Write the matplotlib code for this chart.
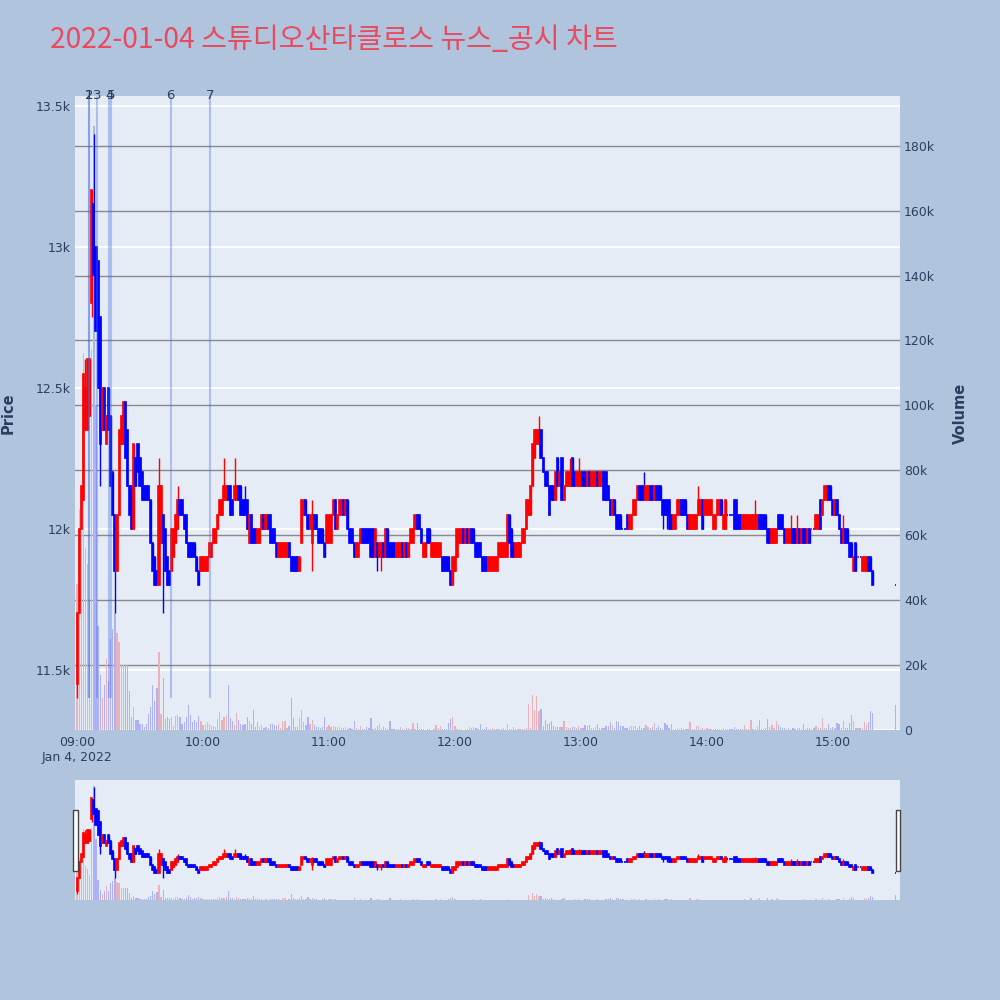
import numpy as np
import matplotlib.pyplot as plt
from matplotlib.patches import Rectangle
from matplotlib.transforms import blended_transform_factory

plt.rcParams['font.family'] = ['DejaVu Sans']

title = '2022-01-04 스튜디오산타클로스 뉴스_공시 차트'

# 1-minute candles 09:00 ~ 15:19, then the 15:30 closing auction
minutes = list(range(380)) + [390]

opens = [
    11450, 11700, 12000, 12100, 12350, 12350, 12400, 12800, 13150, 13000,
    12950, 12750, 12350, 12500, 12300, 12500, 12400, 12200, 12050, 11850,
    12050, 12300, 12300, 12450, 12350, 12150, 12150, 12000, 12250, 12300,
    12250, 12200, 12150, 12150, 12150, 12100, 11950, 11900, 11850, 11800,
    11950, 12050, 12000, 11900, 11850, 11850, 11900, 11950, 12000, 12100,
    12100, 12050, 12050, 11950, 11950, 11950, 11950, 11900, 11850, 11850,
    11850, 11850, 11850, 11900, 11900, 11950, 11950, 12000, 12050, 12050,
    12100, 12100, 12150, 12150, 12100, 12100, 12100, 12150, 12150, 12100,
    12100, 12100, 11950, 12050, 12000, 12000, 11950, 11950, 12000, 12050,
    12000, 12050, 12050, 12000, 12000, 11950, 11900, 11900, 11900, 11900,
    11900, 11950, 11900, 11900, 11900, 11900, 11850, 11950, 12050, 12100,
    12050, 12000, 11950, 12050, 12050, 12000, 12000, 12000, 11950, 11950,
    11950, 11950, 12050, 12100, 12000, 12050, 12050, 12100, 12050, 12100,
    12000, 12000, 11950, 11900, 11900, 11950, 12000, 12000, 12000, 12000,
    12000, 12000, 11900, 11950, 11900, 11900, 11950, 11900, 12000, 11950,
    11950, 11950, 11900, 11900, 11900, 11950, 11900, 11950, 11900, 11950,
    11950, 12000, 12050, 12050, 12000, 11900, 11900, 12000, 12000, 11900,
    11900, 11900, 11900, 11900, 11900, 11900, 11900, 11900, 11850, 11800,
    11850, 11900, 11950, 11950, 12000, 11950, 12000, 11950, 12000, 12000,
    11950, 11950, 11950, 11900, 11900, 11900, 11850, 11850, 11850, 11850,
    11850, 11900, 11900, 11900, 11900, 11900, 12050, 12000, 11950, 11900,
    11900, 11900, 11950, 11950, 12000, 12050, 12050, 12150, 12250, 12300,
    12300, 12350, 12250, 12200, 12200, 12150, 12150, 12150, 12100, 12250,
    12150, 12250, 12100, 12150, 12150, 12150, 12250, 12200, 12150, 12150,
    12150, 12200, 12200, 12150, 12200, 12150, 12150, 12150, 12200, 12150,
    12150, 12200, 12200, 12150, 12100, 12050, 12100, 12050, 12050, 12050,
    12000, 12000, 12050, 12000, 12000, 12050, 12050, 12100, 12150, 12150,
    12150, 12100, 12100, 12150, 12150, 12100, 12150, 12150, 12150, 12100,
    12100, 12100, 12100, 12050, 12000, 12000, 12050, 12050, 12100, 12100,
    12100, 12050, 12000, 12000, 12000, 12000, 12050, 12050, 12100, 12050,
    12050, 12050, 12050, 12000, 12000, 12050, 12050, 12100, 12000, 12000,
    12050, 12050, 12050, 12100, 12100, 12050, 12050, 12000, 12000, 12000,
    12000, 12000, 12000, 12000, 12000, 12050, 12050, 12050, 12050, 12000,
    12000, 11950, 11950, 11950, 12050, 12050, 12050, 12000, 11950, 11950,
    11950, 12000, 12000, 11950, 12000, 11950, 12000, 12000, 11950, 12000,
    12000, 12000, 12000, 12000, 12100, 12050, 12100, 12100, 12150, 12150,
    12100, 12050, 12100, 12050, 12000, 11950, 12000, 12000, 11950, 11950,
    11850, 11950, 11900, 11900, 11850, 11850, 11850, 11900, 11900, 11850,
    11800,
]

closes = [
    11700, 12000, 12150, 12550, 12500, 12600, 12600, 13200, 12900, 12700,
    12500, 12300, 12500, 12350, 12400, 12350, 12150, 12050, 11850, 12050,
    12350, 12400, 12450, 12250, 12150, 12050, 12000, 12300, 12150, 12200,
    12150, 12100, 12100, 12100, 12100, 11950, 11850, 11800, 11800, 12150,
    12150, 11950, 11850, 11800, 11800, 12000, 12000, 12050, 12100, 12050,
    12050, 12000, 11950, 11900, 11900, 11900, 11900, 11850, 11800, 11900,
    11900, 11900, 11900, 11950, 11950, 12000, 12000, 12050, 12100, 12100,
    12150, 12150, 12100, 12050, 12050, 12150, 12150, 12100, 12050, 12050,
    12050, 12000, 12050, 11950, 11950, 11950, 12000, 12000, 12050, 12000,
    12050, 12000, 11950, 11950, 11950, 11900, 11950, 11950, 11950, 11950,
    11950, 11900, 11850, 11850, 11850, 11850, 11900, 12100, 12100, 12050,
    12000, 12050, 12050, 12000, 12000, 11950, 11950, 11950, 11900, 12050,
    12050, 12050, 12100, 12000, 12050, 12100, 12100, 12050, 12100, 12000,
    11950, 11950, 11900, 11950, 11950, 12000, 11950, 11950, 11950, 11950,
    11900, 11900, 12000, 11900, 11950, 11950, 11900, 12000, 11900, 11900,
    11900, 11900, 11950, 11950, 11950, 11900, 11950, 11900, 11950, 12000,
    12000, 12050, 12000, 12000, 11950, 11950, 11950, 11950, 11950, 11950,
    11950, 11950, 11950, 11950, 11850, 11850, 11850, 11850, 11800, 11900,
    11900, 12000, 12000, 12000, 11950, 12000, 11950, 12000, 11950, 11950,
    11900, 11900, 11900, 11850, 11850, 11850, 11900, 11900, 11900, 11900,
    11900, 11950, 11950, 11950, 11950, 12050, 11950, 11900, 11900, 11950,
    11950, 11950, 12000, 12000, 12100, 12100, 12150, 12300, 12350, 12350,
    12350, 12250, 12200, 12150, 12150, 12050, 12100, 12100, 12200, 12150,
    12200, 12100, 12150, 12200, 12200, 12200, 12150, 12150, 12200, 12200,
    12200, 12150, 12150, 12200, 12150, 12200, 12200, 12200, 12150, 12200,
    12200, 12100, 12100, 12100, 12050, 12100, 12050, 12000, 12000, 12000,
    12000, 12000, 12000, 12050, 12050, 12100, 12100, 12150, 12100, 12100,
    12100, 12150, 12150, 12100, 12100, 12150, 12100, 12100, 12100, 12050,
    12050, 12050, 12000, 12000, 12050, 12050, 12100, 12100, 12050, 12050,
    12050, 12000, 12050, 12050, 12050, 12050, 12100, 12100, 12000, 12100,
    12100, 12100, 12100, 12050, 12050, 12100, 12100, 12050, 12050, 12100,
    12050, 12050, 12050, 12000, 12000, 12000, 12000, 12050, 12050, 12050,
    12050, 12050, 12050, 12050, 12050, 12000, 12000, 12000, 12000, 11950,
    11950, 12000, 12000, 12000, 12000, 12000, 12000, 11950, 12000, 12000,
    12000, 11950, 11950, 12000, 11950, 12000, 11950, 11950, 12000, 11950,
    12000, 12000, 12050, 12050, 12000, 12100, 12150, 12150, 12100, 12100,
    12050, 12100, 12050, 12000, 11950, 12000, 11950, 11950, 11900, 11900,
    11900, 11850, 11900, 11900, 11900, 11900, 11900, 11850, 11850, 11800,
    11800,
]

# wicks that stick out of the body (minute index -> price)
wick_high = {4: 12600, 8: 13400, 39: 12250, 48: 12150, 70: 12250, 75: 12250,
             80: 12150, 112: 12100, 220: 12400, 235: 12250, 239: 12250,
             270: 12200, 296: 12150, 323: 12100, 340: 12050, 343: 12050,
             365: 12050}
wick_low = {0: 11400, 7: 12750, 11: 12150, 18: 11700, 41: 11700, 112: 11850,
            143: 11850, 145: 11850, 279: 12000, 281: 12000}

# volume in thousands of shares
volume_k = [
    45, 68, 61, 116, 56, 51, 40, 117, 186, 100,
    32, 17, 10, 14, 22, 15, 28, 31, 36, 30,
    27, 20, 20, 20, 20, 12, 4, 7, 3, 3,
    2, 2, 1, 2, 5, 7, 14, 9, 13, 24,
    5, 16, 3.4, 4, 3.4, 4, 1.3, 4.4, 4.6, 4,
    2, 2.4, 4, 7.8, 4.7, 2.4, 3, 2.6, 4.3, 2.7,
    1.6, 1.9, 2.4, 1.9, 1.3, 1.3, 1, 3.4, 5.5, 3,
    4, 4.3, 13.9, 3.7, 2.7, 1.6, 5.1, 3, 1.9, 1.5,
    2, 3.9, 2.9, 2, 6.2, 1, 2.5, 1, 1.6, 0.6,
    1, 0.6, 2, 1.9, 1.4, 1.3, 2, 0.6, 2.9, 2.7,
    0.6, 1.3, 9.8, 3.7, 1, 1, 3.7, 6.3, 2.4, 1.6,
    4.1, 1.9, 3.1, 1.6, 1, 0.8, 0.6, 1, 3.9, 0.8,
    1.6, 1, 1.3, 1, 0.8, 0.8, 0.6, 0.5, 0.8, 0.3,
    0.6, 0.4, 2.9, 0.5, 0.3, 1.2, 0.4, 0.3, 0.8, 0.5,
    3.6, 0.4, 0.6, 1.1, 2.0, 0.3, 0.8, 0.5, 0.4, 2.9,
    0.3, 0.2, 0.4, 0.3, 0.9, 0.2, 0.3, 0.6, 0.6, 0.4,
    2.3, 0.3, 2.3, 0.2, 0.3, 0.2, 0.1, 0.3, 0.2, 0.1,
    0.3, 1.5, 0.6, 1.2, 0.3, 0.4, 0.2, 2.2, 3.3, 4.1,
    1.2, 0.4, 0.3, 0.2, 0.1, 0.3, 0.2, 0.8, 0.6, 1.0,
    0.5, 0.3, 1.9, 0.3, 0.2, 0.8, 0.3, 0.2, 0.6, 0.3,
    0.4, 0.2, 0.3, 0.6, 0.4, 2.0, 0.3, 0.4, 0.8, 0.2,
    0.3, 0.2, 0.3, 0.4, 0.6, 8.0, 0.6, 10.7, 6.3, 10.4,
    6.0, 6.6, 1.1, 3.2, 1.9, 2.2, 2.7, 1.1, 0.8, 0.8,
    0.8, 0.9, 2.7, 0.8, 0.6, 0.6, 0.8, 0.9, 0.6, 1.1,
    0.6, 0.6, 1.4, 1.1, 1.4, 0.6, 0.6, 0.8, 1.9, 0.6,
    0.6, 0.6, 1.1, 1.1, 2.5, 1.6, 0.6, 2.9, 2.5, 1.1,
    1.1, 0.6, 0.6, 0.8, 1.1, 1.1, 1.1, 0.6, 1.1, 0.6,
    0.6, 1.4, 0.8, 0.6, 0.8, 2.2, 0.6, 1.1, 0.6, 0.4,
    2.2, 1.4, 0.6, 1.9, 0.4, 0.3, 0.5, 0.3, 0.6, 0.3,
    0.4, 0.3, 2.5, 0.4, 0.3, 1.1, 1.1, 0.3, 0.6, 0.2,
    0.6, 0.3, 0.2, 0.4, 0.2, 0.4, 0.2, 0.3, 0.5, 0.2,
    0.3, 0.4, 0.2, 0.8, 0.3, 0.2, 0.3, 0.2, 1.4, 0.3,
    0.4, 3.2, 0.3, 0.2, 1.1, 3.2, 0.3, 0.4, 0.6, 3.5,
    0.8, 1.4, 0.6, 2.7, 1.4, 0.8, 0.6, 0.6, 0.3, 0.6,
    0.4, 0.6, 0.3, 0.6, 0.6, 0.3, 1.9, 0.4, 0.6, 0.6,
    0.3, 0.6, 1.1, 0.6, 0.6, 3.7, 0.6, 0.6, 1.9, 0.6,
    0.8, 0.6, 2.3, 2.0, 0.6, 2.7, 0.6, 0.6, 2.3, 4.7,
    2.9, 0.6, 0.6, 0.6, 0.6, 2.5, 1.4, 2.5, 5.8, 5.1,
    7.6,
]

# news / disclosure markers (minutes after 09:00)
news_minutes = [5.6, 5.7, 9.4, 15.4, 16.2, 44.6, 63.3]
news_labels = ['1', '2', '3', '4', '5', '6', '7']

x_ticks = [0, 60, 120, 180, 240, 300, 360]
x_labels = ['09:00\nJan 4, 2022', '10:00', '11:00', '12:00', '13:00', '14:00', '15:00']
price_ticks = [11500, 12000, 12500, 13000, 13500]
price_labels = ['11.5k', '12k', '12.5k', '13k', '13.5k']
vol_ticks = [0, 20000, 40000, 60000, 80000, 100000, 120000, 140000, 160000, 180000]
vol_labels = ['0', '20k', '40k', '60k', '80k', '100k', '120k', '140k', '160k', '180k']

x = np.array(minutes)
o = np.array(opens)
c = np.array(closes)
vol = np.array(volume_k) * 1000
hi = np.maximum(o, c)
lo = np.minimum(o, c)
for k, v in wick_high.items():
    hi[k] = v
for k, v in wick_low.items():
    lo[k] = v
prev = np.r_[c[0], c[:-1]]
up = (c > o) | ((c == o) & (c > prev))
col = np.where(up, 'red', 'blue')
vcol = np.where(up, '#EBB1B8', '#ACB1F8')

p_lo, p_hi = lo.min() * 0.99, hi.max() * 1.01
v_hi = vol.max() * 1.05
txt = '#2a3f5f'
bg = '#E5ECF6'


def draw(ax_v, ax_p):
    ax_v.bar(x, vol, width=0.6, color=vcol, linewidth=0, zorder=1)
    ax_p.vlines(x, lo, hi, colors=col, lw=1.0, zorder=2)
    ax_p.bar(x, c - o, bottom=o, width=0.55, color=col, edgecolor=col,
             linewidth=1.2, zorder=3)
    for a in (ax_v, ax_p):
        a.set_xlim(-1, 392)
        for s in a.spines.values():
            s.set_visible(False)
    ax_v.set_ylim(0, v_hi)
    ax_p.set_ylim(p_lo, p_hi)


fig = plt.figure(figsize=(10, 10), dpi=100, facecolor='#B0C4DE')

# main chart
ax_v = fig.add_axes([0.075, 0.27, 0.825, 0.634])
ax_v.set_facecolor(bg)
ax_p = ax_v.twinx()
draw(ax_v, ax_p)

tr = blended_transform_factory(ax_v.transAxes, ax_p.transData)
for p in price_ticks:
    ax_v.plot([0, 1], [p, p], transform=tr, color='white', lw=1.3, zorder=0.4)
for v in vol_ticks[1:]:
    ax_v.axhline(v, color='#8a8a8a', lw=1.0, zorder=0.6)
ax_v.axhline(0, color='white', lw=2, zorder=0.6)

ax_v.yaxis.tick_right()
ax_v.yaxis.set_label_position('right')
ax_p.yaxis.tick_left()
ax_p.yaxis.set_label_position('left')
ax_v.set_yticks(vol_ticks, vol_labels)
ax_p.set_yticks(price_ticks, price_labels)
ax_v.set_xticks(x_ticks, x_labels)
ax_v.tick_params(axis='x', length=0, pad=4, labelsize=9, labelcolor=txt)
ax_v.tick_params(axis='y', length=0, pad=3, labelsize=9, labelcolor=txt)
ax_p.tick_params(axis='y', length=0, pad=3, labelsize=9, labelcolor=txt)
ax_p.set_ylabel('Price', fontsize=10.5, fontweight='bold', color=txt)
ax_p.yaxis.set_label_coords(-0.072, 0.5)
ax_v.set_ylabel('Volume', fontsize=10.5, fontweight='bold', color=txt)
ax_v.yaxis.set_label_coords(1.064, 0.5)

ax_p.vlines(news_minutes, lo.min(), p_hi, colors='royalblue', alpha=0.35,
            lw=1.5, zorder=4)
for m, lab in zip(news_minutes, news_labels):
    ax_p.text(m, p_hi, lab, ha='center', va='center', fontsize=9.5,
              color=txt, clip_on=False, zorder=5)

# range slider
sl_v = fig.add_axes([0.075, 0.1, 0.825, 0.12])
sl_v.set_facecolor(bg)
sl_p = sl_v.twinx()
draw(sl_v, sl_p)
for a in (sl_v, sl_p):
    a.set_xticks([])
    a.set_yticks([])
for rx, rw in ((0.073, 0.005), (0.896, 0.004)):
    fig.patches.append(Rectangle((rx, 0.129), rw, 0.061, transform=fig.transFigure,
                                 facecolor='white', edgecolor='#444444', lw=1.0))

fig.text(0.05, 0.96, title, fontsize=20.3, color='#E84A5F', va='center',
         family=['Noto Sans CJK KR', 'DejaVu Sans'])

fig.savefig('out.png', dpi=100, facecolor=fig.get_facecolor())
